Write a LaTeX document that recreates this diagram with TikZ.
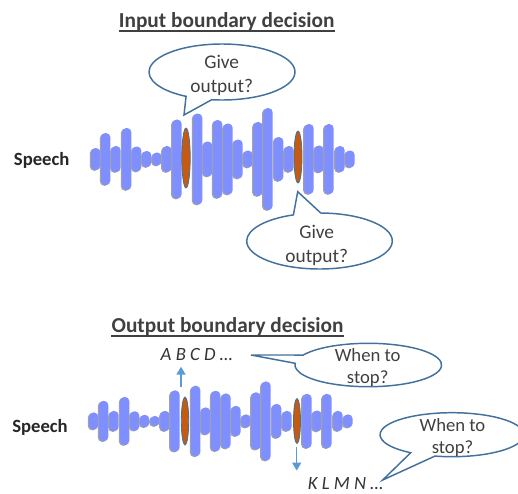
\documentclass[tikz,border=0pt]{standalone}
\usepackage{fontspec}
\setmainfont{Carlito}
\usetikzlibrary{arrows.meta,calc}

\definecolor{barblue}{RGB}{127,143,255}
\definecolor{barshade}{RGB}{158,160,172}
\definecolor{peak}{RGB}{197,90,17}
\definecolor{rim}{RGB}{65,113,156}
\definecolor{tipblue}{RGB}{91,155,213}
\definecolor{ink}{RGB}{64,64,64}

% one speech waveform: #1 horizontal shift, #2 centre line, #3 vertical scale
\newcommand\speechwave[3]{%
  \foreach \bx/\bh in {95.7/11, 105.7/26, 116/13, 126.7/31, 136.7/12.5,
      146.7/8, 157/6.5, 167/13, 177/39.5, 197.7/45.5, 207.7/17.5, 217.7/39,
      228/35.5, 238/19.5, 248/8.5, 258/37, 268/51, 278.7/22, 289/13,
      309/35, 319/13.5, 329/35, 340/13, 350/8.5}{%
    \pgfmathsetmacro\hh{\bh*#3}%
    \pgfmathsetmacro\xa{\bx+#1-5.9}%
    \pgfmathsetmacro\xb{\bx+#1+3.5}%
    \pgfmathsetmacro\xc{\bx+#1-4.7}%
    \pgfmathsetmacro\xd{\bx+#1+4.7}%
    \pgfmathsetmacro\ya{#2-\hh+0.8}%
    \pgfmathsetmacro\yb{#2+\hh+0.8}%
    \pgfmathsetmacro\yc{#2-\hh}%
    \pgfmathsetmacro\yd{#2+\hh}%
    \fill[barshade, rounded corners=3.3pt] (\xa,\ya) rectangle (\xb,\yb);
    \fill[barblue, rounded corners=3.3pt] (\xc,\yc) rectangle (\xd,\yd);
  }%
}

\begin{document}
\begin{tikzpicture}[x=0.75pt, y=-0.75pt,
  bubble/.style={draw=rim, fill=white, line width=1.1pt, line join=miter},
  say/.style={font=\fontsize{14.5}{17.5}\selectfont, text=ink, align=center, inner sep=0pt},
  saytight/.style={font=\fontsize{14}{16.5}\selectfont, text=ink, align=center, inner sep=0pt},
  heading/.style={font=\fontsize{16}{19}\selectfont\bfseries, text=ink, inner sep=0pt, anchor=base},
  sidelabel/.style={font=\fontsize{14}{17}\selectfont\bfseries, text=black!85, inner sep=0pt, anchor=base},
  letters/.style={font=\fontsize{14}{16}\selectfont\itshape, text=black!80, inner sep=0pt, anchor=base},
  marker/.style={tipblue, line width=1.1pt, -{Triangle[width=6.8pt,length=6pt]}},
  peakmark/.style={fill=peak, draw=rim, line width=0.6pt},
  rule/.style={ink, line width=1.2pt}]

\useasboundingbox (0,0) rectangle (518,493);
\clip (0,0) rectangle (518,493);

% ---------- input boundary decision ----------
\node[heading] (t1) at (226.7,27.3) {Input boundary decision};
\draw[rule] ([yshift=-2.6pt]t1.base west) -- ([yshift=-2.6pt]t1.base east);

\node[sidelabel] (s1) at (41.7,165.7) {Speech};

\speechwave{0}{159}{1}
\path[peakmark] (186,158) ellipse [x radius=4.2, y radius=30];
\path[peakmark] (298,157) ellipse [x radius=4, y radius=26];

% upper callout
\coordinate (c1) at (222,72);
\coordinate (p1) at (184,115);
\draw[bubble] (p1) -- ($(c1)+(98.1:73 and 28)$)
  arc[start angle=98.1, end angle=-240.5, x radius=73, y radius=28] -- cycle;
\node[say] (q1) at (221.7,75.5) {Give\\output?};

% lower callout
\coordinate (c2) at (319.5,241);
\coordinate (p2) at (297.7,191.7);
\draw[bubble] (p2) -- ($(c2)+(-89:72.8 and 28)$)
  arc[start angle=-89, end angle=249, x radius=72.8, y radius=28] -- cycle;
\node[say] (q2) at (316.7,245.5) {Give\\output?};

% ---------- output boundary decision ----------
\node[heading] (t2) at (227.5,332.3) {Output boundary decision};
\draw[rule] ([yshift=-2.6pt]t2.base west) -- ([yshift=-2.6pt]t2.base east);

\node[sidelabel] (s2) at (40,432) {Speech};

\speechwave{-2}{421}{0.775}
\path[peakmark] (185,421) ellipse [x radius=3.7, y radius=24];
\path[peakmark] (297,421) ellipse [x radius=3.5, y radius=22.5];

\node[letters] (abcd) at (196.7,360.7) {A B C D …};
\node[letters] (klmn) at (345.5,489.3) {K L M N …};

\coordinate (u0) at (181,386.5);
\coordinate (u1) at (181,366.7);
\draw[marker] (u0) -- (u1);
\coordinate (d0) at (296.7,446.7);
\coordinate (d1) at (296.7,470.5);
\draw[marker] (d0) -- (d1);

% first "when to stop" callout
\coordinate (c3) at (368.3,365);
\coordinate (p3) at (251,355);
\draw[bubble] (p3) -- ($(c3)+(207.4:73.3 and 21.7)$)
  arc[start angle=207.4, end angle=544.5, x radius=73.3, y radius=21.7] -- cycle;
\node[saytight] (q3) at (367.7,367.6) {When to\\stop?};

% second "when to stop" callout
\coordinate (c4) at (452,434.7);
\coordinate (p4) at (382.7,480);
\draw[bubble] (p4) -- ($(c4)+(103.7:72 and 22)$)
  arc[start angle=103.7, end angle=-235, x radius=72, y radius=22] -- cycle;
\node[saytight] (q4) at (452.5,437.5) {When to\\stop?};

\end{tikzpicture}
\end{document}
